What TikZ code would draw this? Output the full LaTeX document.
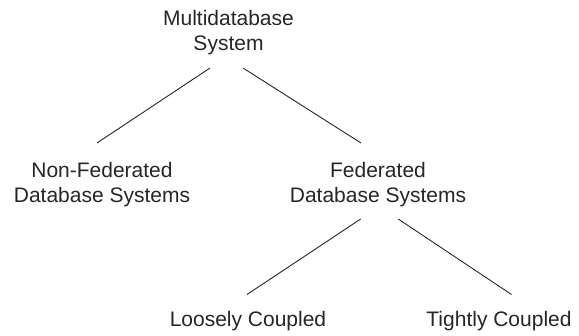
\documentclass[tikz,border=0pt]{standalone}
\usepackage{fontspec}
\setmainfont{Liberation Sans}
\usetikzlibrary{calc}
\begin{document}
\begin{tikzpicture}[x=1pt,y=-1pt,
  lbl/.style={anchor=north,inner sep=0pt,align=center,font=\fontsize{21}{25}\selectfont,text=black!85},
  link/.style={line width=0.9pt,draw=black!85}]
\useasboundingbox (0,0) rectangle (579,336);
\node[lbl] (msys) at (228.5,10) {Multidatabase\\System};
\node[lbl] (nonfed) at (102,162) {Non-Federated\\Database Systems};
\node[lbl] (fed) at (378,162) {Federated\\Database Systems};
\node[lbl] (loose) at (248,311) {Loosely Coupled};
\node[lbl] (tight) at (499,311) {Tightly Coupled};
\draw[link] ($(msys.north)+(-18.5,58)$) -- ($(nonfed.north)+(-5,-19)$);
\draw[link] ($(msys.north)+(14.5,58)$) -- ($(fed.north)+(-17,-19)$);
\draw[link] ($(fed.north)+(-17.3,57)$) -- ($(loose.north)+(-1,-16.5)$);
\draw[link] ($(fed.north)+(20.3,57)$) -- ($(tight.north)+(12.5,-16.5)$);
\end{tikzpicture}
\end{document}
